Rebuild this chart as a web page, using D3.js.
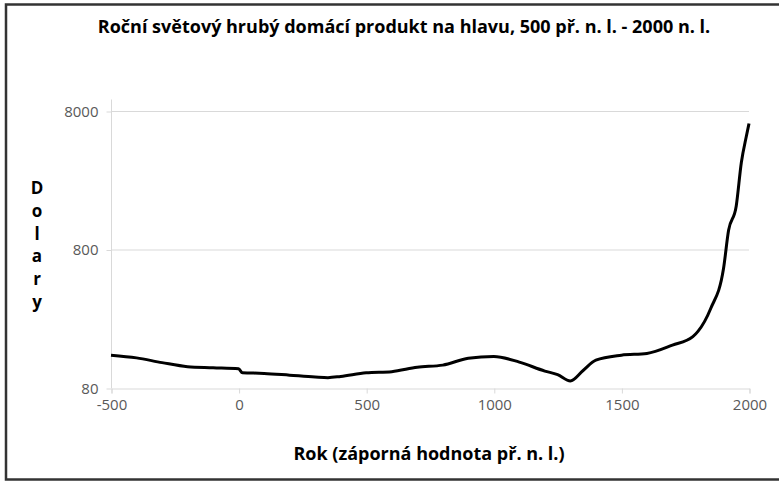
<!DOCTYPE html>
<html>
<head>
<meta charset="utf-8">
<script src="https://cdn.jsdelivr.net/npm/d3@7"></script>
<style>
  body { margin: 0; background: #fff; }
  svg { display: block; }
</style>
</head>
<body>
<svg id="chart" width="779" height="481"></svg>
<script>
// world GDP per capita (dollars)
const years = [-500, -400, -300, -200, -100, 0, 15, 100, 200, 300, 350, 400, 500, 600, 700, 800, 900, 1000, 1100, 1200, 1250, 1300, 1350, 1400, 1500, 1600, 1700, 1780, 1800, 1850, 1900, 1920, 1950, 1970, 1990, 2000];
const gdp = [138, 132, 122, 114, 112, 110, 103, 102, 99, 96, 95, 97, 103, 105, 113, 117, 131, 135, 123, 106, 100, 90, 107, 127, 138, 142, 163, 188, 205, 300, 580, 1100, 1650, 3400, 5300, 6500];
const x_ticks = [-500, 0, 500, 1000, 1500, 2000];
const y_ticks = [80, 800, 8000];

const title_text = "Roční světový hrubý domácí produkt na hlavu, 500 př. n. l. - 2000 n. l.";
const x_title = "Rok (záporná hodnota př. n. l.)";
const y_title = "Dolary";

const svg = d3.select("#chart");
const tick_color = "#595959";
const grid_color = "#d9d9d9";

// frame (top, left, bottom edges)
svg.append("path")
  .attr("d", "M779,4.5 H6 V479.5 H779")
  .attr("fill", "none")
  .attr("stroke", "#333")
  .attr("stroke-width", 2.5);

let x_scale = d3.scaleLinear().domain([-500, 2000]).range([111, 749]);
let y_scale = d3.scaleLog().domain([80, 8000]).range([388, 111]);
const plot_top = 99;

// gridlines
svg.append("g")
  .selectAll("line")
  .data(y_ticks.slice(1))
  .join("line")
  .attr("x1", x_scale(-500))
  .attr("x2", x_scale(2000))
  .attr("y1", (d) => y_scale(d) + 0.5)
  .attr("y2", (d) => y_scale(d) + 0.5)
  .attr("stroke", grid_color);

// y axis
let y_axis = svg.append("g")
  .attr("transform", `translate(${x_scale(-500) + 0.5},0.5)`)
  .call(d3.axisLeft(y_scale).tickValues(y_ticks).tickFormat((d) => String(d)).tickSize(5).tickPadding(8));
y_axis.select(".domain").attr("d", `M0,${plot_top} V${y_scale(80)}`).attr("stroke", grid_color);
y_axis.selectAll(".tick line").attr("stroke", grid_color);
y_axis.selectAll(".tick text")
  .attr("fill", tick_color)
  .style("font-family", "'Open Sans', sans-serif")
  .style("font-size", "15px");

// x axis
let x_axis = svg.append("g")
  .attr("transform", `translate(0.5,${y_scale(80) + 0.5})`)
  .call(d3.axisBottom(x_scale).tickValues(x_ticks).tickFormat((d) => String(d)).tickSize(5).tickPadding(6));
x_axis.select(".domain").attr("stroke", grid_color);
x_axis.selectAll(".tick line").attr("stroke", grid_color);
x_axis.selectAll(".tick text")
  .attr("fill", tick_color)
  .style("font-family", "'Open Sans', sans-serif")
  .style("font-size", "15px");

// the line
const points = years.map((y, i) => [y, gdp[i]]);
svg.append("path")
  .datum(points)
  .attr("fill", "none")
  .attr("stroke", "#000")
  .attr("stroke-width", 3)
  .attr("stroke-linejoin", "round")
  .attr("d", d3.line()
    .x((d) => x_scale(d[0]))
    .y((d) => y_scale(d[1]))
    .curve(d3.curveMonotoneX));

// title
svg.append("text")
  .attr("x", 404)
  .attr("y", 33)
  .attr("text-anchor", "middle")
  .style("font-family", "'Open Sans', sans-serif")
  .style("font-weight", "bold")
  .style("font-size", "18px")
  .text(title_text);

// x axis title
svg.append("text")
  .attr("x", 429)
  .attr("y", 460)
  .attr("text-anchor", "middle")
  .style("font-family", "'Open Sans', sans-serif")
  .style("font-weight", "bold")
  .style("font-size", "18px")
  .text(x_title);

// y axis title, stacked letters
svg.append("g")
  .selectAll("text")
  .data(y_title.split(""))
  .join("text")
  .attr("x", 37)
  .attr("y", (d, i) => 194 + i * 22.8)
  .attr("text-anchor", "middle")
  .style("font-family", "'Open Sans', sans-serif")
  .style("font-weight", "bold")
  .style("font-size", "17px")
  .text((d) => d);
</script>
</body>
</html>
